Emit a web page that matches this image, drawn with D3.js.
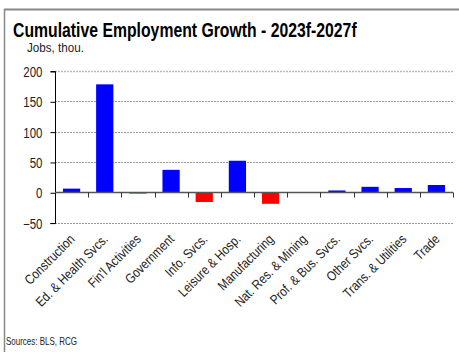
<!DOCTYPE html>
<html><head><meta charset="utf-8">
<script src="https://cdn.jsdelivr.net/npm/d3@7/dist/d3.min.js"></script>
<style>
html,body{margin:0;padding:0;background:#fff;}
svg{display:block;}
text{font-family:"Liberation Sans Narrow","Arial Narrow","Liberation Sans",Arial,sans-serif;fill:#222;}
</style></head>
<body>
<script>
const categories = ["Construction","Ed. & Health Svcs.","Fin'l Activities","Government","Info. Svcs.","Leisure & Hosp.","Manufacturing","Nat. Res. & Mining","Prof. & Bus. Svcs.","Other Svcs.","Trans. & Utilities","Trade"];
const values = [6, 178, -2, 37, -16, 52, -19, -1, 3, 9, 7, 12];
const yTicks = [-50, 0, 50, 100, 150, 200];
const title = "Cumulative Employment Growth - 2023f-2027f";
const unitLabel = "Jobs, thou.";
const sourceLabel = "Sources: BLS, RCG";

const W = 459, H = 352;
const svg = d3.select("body").append("svg").attr("width", W).attr("height", H);

// frame
svg.append("line").attr("x1",4).attr("x2",W).attr("y1",9.5).attr("y2",9.5).attr("stroke","#888").attr("stroke-width",2);
svg.append("line").attr("x1",4.5).attr("x2",4.5).attr("y1",9).attr("y2",H).attr("stroke","#888").attr("stroke-width",1.5);

// text fitted to a target width via horizontal scale
function fitText(str, xPos, yPos, size, target, bold) {
  const t = svg.append("text").attr("font-size", size).attr("font-weight", bold ? "bold" : null).text(str);
  if (bold) t.style("fill", "#000");
  const len = t.node().getComputedTextLength();
  const sx = target / len;
  t.attr("transform", `translate(${xPos},${yPos}) scale(${sx},1)`);
  return t;
}
fitText(title, 13, 37, 20, 344, true);
fitText(unitLabel, 27, 52, 13, 57, false);
fitText(sourceLabel, 6, 345, 10, 71, false);

const x0 = 55, x1 = 453;
const y = d3.scaleLinear().domain([-50,200]).range([222.6,71]);
const x = d3.scaleBand().domain(categories).range([x0,x1]).paddingInner(0.48).paddingOuter(0.24);
const NARROW = 0.82;

// gridlines
svg.append("g").selectAll("line").data(yTicks.filter(v=>v!==0)).join("line")
  .attr("x1",x0).attr("x2",x1).attr("y1",d=>Math.round(y(d))+0.5).attr("y2",d=>Math.round(y(d))+0.5)
  .attr("stroke",d=>d===200?"#bbb":"#999").attr("stroke-width",d=>d===200?1.5:1).attr("stroke-dasharray","2,1");

// y axis
const yAxis = d3.axisLeft(y).tickValues(yTicks).tickSize(5).tickPadding(8).tickFormat(d3.format("d"));
const gy = svg.append("g").attr("transform",`translate(${x0+0.5},0.5)`).call(yAxis);
gy.select(".domain").attr("stroke","#000").attr("d",`M-5,${Math.round(y(200))}H0V${Math.round(y(-50))}H-5`);
gy.selectAll(".tick line").attr("stroke","#000");
gy.selectAll(".tick text").attr("font-size",14).attr("font-family",null).style("fill","#222")
  .attr("x",null).attr("dy","0.35em")
  .attr("transform",`translate(-13,0) scale(${NARROW},1)`);

// bars
svg.append("g").selectAll("rect").data(values).join("rect")
  .attr("x",(d,i)=>x(categories[i]))
  .attr("width",x.bandwidth())
  .attr("y",d=>y(Math.max(0,d)))
  .attr("height",d=>Math.abs(y(d)-y(0)))
  .attr("fill",d=>d>=0?"#0000ff":(d>-5?"#990000":"#ff0000"));

// zero axis with category boundary ticks
const y0 = Math.round(y(0))+0.5;
svg.append("line").attr("x1",x0).attr("x2",x1).attr("y1",y0).attr("y2",y0).attr("stroke","#555").attr("stroke-width",1.5);
const bounds = d3.range(1, categories.length+1).map(i => x0 + (x1-x0)*i/categories.length);
svg.append("g").selectAll("line").data(bounds).join("line")
  .attr("x1",d=>Math.round(d)+0.5).attr("x2",d=>Math.round(d)+0.5).attr("y1",y0).attr("y2",y0+5)
  .attr("stroke","#333");

// category labels
svg.append("g").selectAll("text").data(categories).join("text")
  .attr("transform",d=>`translate(${x(d)+x.bandwidth()/2+4},240) rotate(-45) scale(0.85,1)`)
  .attr("text-anchor","end").attr("font-size",13.5).text(d=>d);
</script>
</body></html>
